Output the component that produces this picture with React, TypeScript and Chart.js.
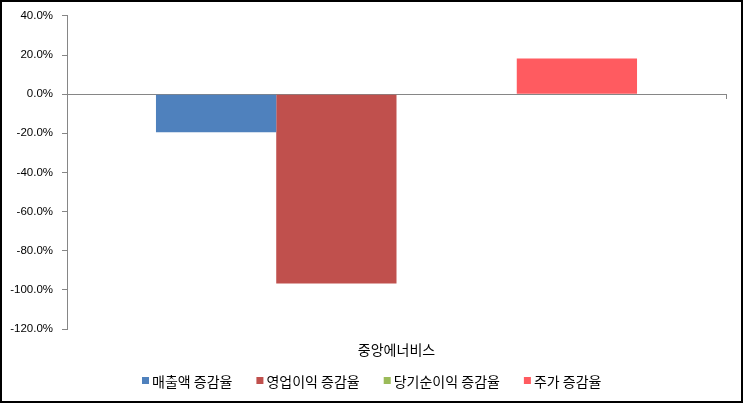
import React, { useEffect, useRef } from "react";
import { Chart, registerables } from "chart.js";

Chart.register(...registerables);

const categories = ["중앙에너비스"];
const seriesNames = ["매출액 증감율", "영업이익 증감율", "당기순이익 증감율", "주가 증감율"];
const salesGrowth = [-19.5];
const opProfitGrowth = [-96.8];
const netIncomeGrowth = [0];
const stockGrowth = [18.2];
const seriesColors = ["#4F81BD", "#C0504D", "#9BBB59", "#FF5B60"];
const yMin = -120;
const yMax = 40;
const yStep = 20;

const KR_FONT = '"Noto Sans CJK KR", "Noto Sans", sans-serif';

const borderPlugin = {
  id: "frameBorder",
  afterDraw(chart: any) {
    const ctx = chart.ctx;
    ctx.save();
    ctx.strokeStyle = "#000";
    ctx.lineWidth = 2;
    ctx.strokeRect(1, 1, chart.width - 2, chart.height - 2);
    ctx.restore();
  },
};

const zeroTickPlugin = {
  id: "zeroTick",
  afterDraw(chart: any) {
    const ctx = chart.ctx;
    const y0 = chart.scales.y.getPixelForValue(0);
    const x = Math.round(chart.chartArea.right) + 0.5;
    ctx.save();
    ctx.strokeStyle = "#868686";
    ctx.lineWidth = 1;
    ctx.beginPath();
    ctx.moveTo(x, Math.round(y0));
    ctx.lineTo(x, Math.round(y0) + 5);
    ctx.stroke();
    ctx.restore();
  },
};

const legendPlugin = {
  id: "customLegend",
  afterDraw(chart: any) {
    const ctx = chart.ctx;
    ctx.save();
    ctx.font = `14px ${KR_FONT}`;
    ctx.textBaseline = "middle";
    ctx.textAlign = "left";
    const box = 7;
    const gap = 3;
    const itemGap = 24;
    const items = chart.data.datasets.map((d: any) => ({
      label: d.label as string,
      color: d.backgroundColor as string,
      w: ctx.measureText(d.label).width,
    }));
    const total =
      items.reduce((s: number, it: any) => s + box + gap + it.w, 0) + itemGap * (items.length - 1);
    let x = Math.round((chart.width - total) / 2);
    const cy = 381;
    for (const it of items) {
      ctx.fillStyle = it.color;
      ctx.fillRect(x, cy - 4, box, box);
      ctx.fillStyle = "#000";
      ctx.fillText(it.label, x + box + gap, cy + 0.5);
      x += box + gap + it.w + itemGap;
    }
    ctx.restore();
  },
};

export default function App() {
  const ref = useRef<HTMLCanvasElement | null>(null);

  useEffect(() => {
    if (!ref.current) return;
    const values = [salesGrowth, opProfitGrowth, netIncomeGrowth, stockGrowth];
    const chart = new Chart(ref.current, {
      type: "bar",
      data: {
        labels: categories,
        datasets: seriesNames.map((name, i) => ({
          label: name,
          data: values[i],
          backgroundColor: seriesColors[i],
          borderWidth: 0,
          categoryPercentage: 0.73,
          barPercentage: 1.0,
        })),
      },
      options: {
        responsive: false,
        animation: false,
        devicePixelRatio: 1,
        layout: { padding: { left: 0, right: 17, top: 15, bottom: 0 } },
        plugins: {
          legend: { display: false },
          tooltip: { enabled: false },
        },
        scales: {
          x: {
            grid: { display: false, drawTicks: false },
            border: { display: false },
            ticks: {
              color: "#000",
              padding: 12,
              font: { family: KR_FONT, size: 14 },
            },
            afterFit(scale: any) {
              scale.height = 74;
            },
          },
          y: {
            min: yMin,
            max: yMax,
            ticks: {
              stepSize: yStep,
              color: "#000",
              padding: 9,
              font: { family: '"Liberation Sans", Arial, sans-serif', size: 11.5 },
              callback: (v: any) => Number(v).toFixed(1) + "%",
            },
            grid: {
              color: (ctx: any) => (ctx.tick && ctx.tick.value === 0 ? "#868686" : "rgba(0,0,0,0)"),
              tickColor: "#868686",
              tickLength: 5,
              lineWidth: 1,
            },
            border: { display: true, color: "#868686", width: 1 },
            afterFit(scale: any) {
              scale.width = 67;
            },
          },
        },
      },
      plugins: [zeroTickPlugin, legendPlugin, borderPlugin],
    });
    return () => chart.destroy();
  }, []);

  return (
    <div style={{ position: "absolute", left: 0, top: 0, width: 743, height: 403, background: "#fff" }}>
      <canvas ref={ref} width={743} height={403} style={{ display: "block" }} />
    </div>
  );
}
